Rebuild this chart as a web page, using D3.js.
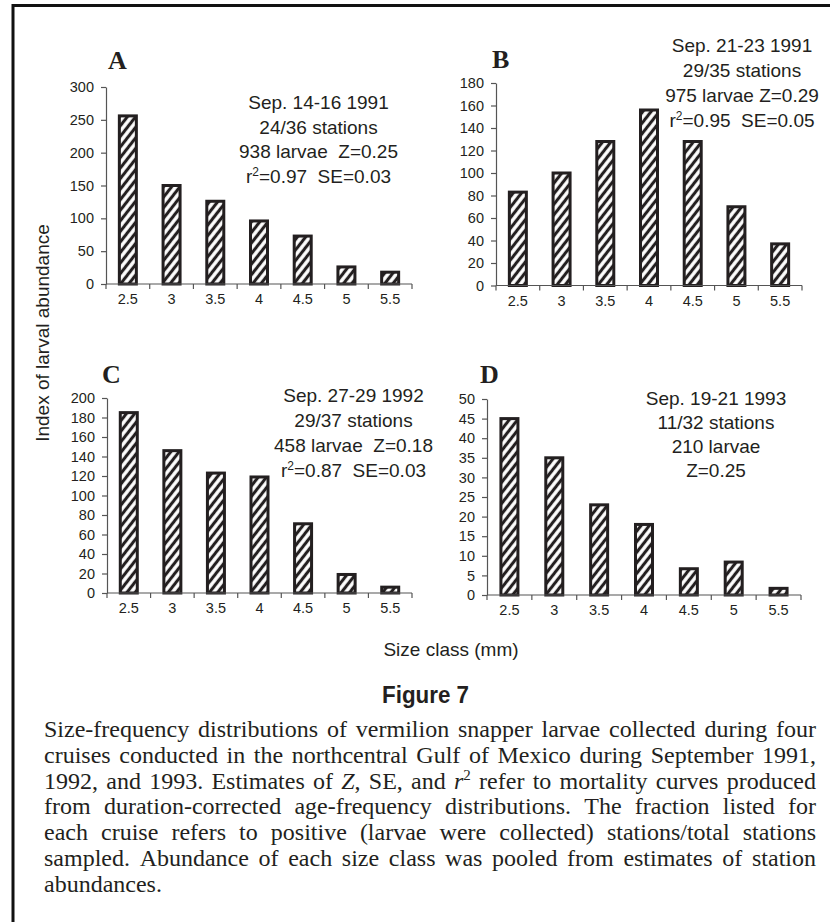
<!DOCTYPE html>
<html>
<head>
<meta charset="utf-8">
<script src="https://cdn.jsdelivr.net/npm/d3@7"></script>
<style>
  html, body { margin: 0; padding: 0; background: #fff; }
  svg { display: block; }
  text { fill: #231f20; }
</style>
</head>
<body>
<svg id="chart" width="830" height="922"></svg>
<script>
// ---------------- DATA ----------------
const categories = ["2.5", "3", "3.5", "4", "4.5", "5", "5.5"];

const valuesA = [256, 150, 126, 96, 73, 26, 18];
const valuesB = [83, 100, 128, 156, 128, 70, 37];
const valuesC = [185, 146, 123, 119, 71, 19, 6];
const valuesD = [45, 35, 23, 18, 6.7, 8.4, 1.7];

const yTicksA = [0, 50, 100, 150, 200, 250, 300];
const yTicksB = [0, 20, 40, 60, 80, 100, 120, 140, 160, 180];
const yTicksC = [0, 20, 40, 60, 80, 100, 120, 140, 160, 180, 200];
const yTicksD = [0, 5, 10, 15, 20, 25, 30, 35, 40, 45, 50];

const panelLetters = ["A", "B", "C", "D"];

// annotation lines; "^2^" marks a superscript
const notesA = ["Sep. 14-16 1991", "24/36 stations", "938 larvae  Z=0.25", "r^2^=0.97  SE=0.03"];
const notesB = ["Sep. 21-23 1991", "29/35 stations", "975 larvae Z=0.29", "r^2^=0.95  SE=0.05"];
const notesC = ["Sep. 27-29 1992", "29/37 stations", "458 larvae  Z=0.18", "r^2^=0.87  SE=0.03"];
const notesD = ["Sep. 19-21 1993", "11/32 stations", "210 larvae", "Z=0.25"];

const yAxisTitle = "Index of larval abundance";
const xAxisTitle = "Size class (mm)";
const figureTitle = "Figure 7";
// "_x_" italic, "^2^" superscript
const captionLines = [
  "Size-frequency distributions of vermilion snapper larvae collected during four",
  "cruises conducted in the northcentral Gulf of Mexico during September 1991,",
  "1992, and 1993. Estimates of _Z_, SE, and _r_^2^ refer to mortality curves produced",
  "from duration-corrected age-frequency distributions. The fraction listed for",
  "each cruise refers to positive (larvae were collected) stations/total stations",
  "sampled. Abundance of each size class was pooled from estimates of station",
  "abundances."
];

// ---------------- LAYOUT ----------------
const INK = "#231f20";
const SANS = "Liberation Sans, Arial, Helvetica, sans-serif";
const SERIF = "Liberation Serif, Times New Roman, serif";

const panels = [
  { values: valuesA, ticks: yTicksA, letter: panelLetters[0], notes: notesA,
    x0: 106, x1: 412, y0: 284, y1: 87, max: 300,
    lx: 108, ly: 69, nx: 318.5, ny: 109, ns: 24.7 },
  { values: valuesB, ticks: yTicksB, letter: panelLetters[1], notes: notesB,
    x0: 496, x1: 802, y0: 285.5, y1: 83, max: 180,
    lx: 492, ly: 68, nx: 742, ny: 52, ns: 25 },
  { values: valuesC, ticks: yTicksC, letter: panelLetters[2], notes: notesC,
    x0: 107, x1: 412, y0: 593, y1: 398, max: 200,
    lx: 102, ly: 383, nx: 353.5, ny: 402, ns: 25 },
  { values: valuesD, ticks: yTicksD, letter: panelLetters[3], notes: notesD,
    x0: 487, x1: 801, y0: 595, y1: 399, max: 50,
    lx: 480, ly: 383, nx: 716, ny: 405, ns: 24 }
];

const svg = d3.select("#chart");

// hatch pattern
const defs = svg.append("defs");
const pat = defs.append("pattern")
  .attr("id", "hatch")
  .attr("patternUnits", "userSpaceOnUse")
  .attr("width", 6.5).attr("height", 6.5)
  .attr("patternTransform", "rotate(38)");
pat.append("rect").attr("width", 6.5).attr("height", 6.5).attr("fill", "#fff");
pat.append("line").attr("x1", 3.25).attr("y1", -1).attr("x2", 3.25).attr("y2", 7.5)
  .attr("stroke", INK).attr("stroke-width", 3.1);

// frame (top + left rule)
svg.append("path")
  .attr("d", "M13,922 V5.5 H830")
  .attr("fill", "none").attr("stroke", "#111").attr("stroke-width", 3);

function addRichText(sel, str, supSize, supShift) {
  const parts = str.split("^");
  parts.forEach((p, i) => {
    if (!p) return;
    const isSup = i % 2 === 1;
    const ts = sel.append("tspan").text(p);
    if (isSup) {
      ts.attr("font-size", supSize).attr("dy", -supShift);
    } else if (i > 0) {
      ts.attr("dy", supShift);
    }
  });
}

panels.forEach(p => {
  const g = svg.append("g");
  const x = d3.scaleBand().domain(categories).range([p.x0, p.x1]).paddingInner(0).paddingOuter(0);
  const y = d3.scaleLinear().domain([0, p.max]).range([p.y0, p.y1]);

  // y axis
  const ya = g.append("g")
    .attr("transform", `translate(${p.x0},0)`)
    .call(d3.axisLeft(y).tickValues(p.ticks).tickSize(5).tickSizeOuter(0).tickPadding(7));
  ya.select(".domain").attr("stroke", "#555").attr("stroke-width", 1.2);
  ya.selectAll(".tick line").attr("stroke", "#555").attr("stroke-width", 1.2);
  ya.selectAll(".tick text").attr("font-size", 14.5).attr("font-family", SANS).attr("fill", INK);

  // bars
  const bw = 17;
  g.selectAll("rect.bar")
    .data(p.values)
    .join("rect")
    .attr("class", "bar")
    .attr("x", (d, i) => x(categories[i]) + x.bandwidth() / 2 - bw / 2)
    .attr("y", d => y(d))
    .attr("width", bw)
    .attr("height", d => y(0) - y(d))
    .attr("fill", "url(#hatch)")
    .attr("stroke", INK)
    .attr("stroke-width", 3);

  // x axis
  g.append("line")
    .attr("x1", p.x0).attr("x2", p.x1)
    .attr("y1", p.y0).attr("y2", p.y0)
    .attr("stroke", "#555").attr("stroke-width", 1.2);
  const bounds = categories.map(c => x(c)).concat([p.x1]);
  g.selectAll("line.xt")
    .data(bounds)
    .join("line")
    .attr("class", "xt")
    .attr("x1", d => d).attr("x2", d => d)
    .attr("y1", p.y0).attr("y2", p.y0 + 5)
    .attr("stroke", "#555").attr("stroke-width", 1.2);
  g.selectAll("text.xl")
    .data(categories)
    .join("text")
    .attr("class", "xl")
    .attr("x", d => x(d) + x.bandwidth() / 2)
    .attr("y", p.y0 + 20)
    .attr("text-anchor", "middle")
    .attr("font-family", SANS)
    .attr("font-size", 14.5)
    .text(d => d);

  // panel letter
  g.append("text")
    .attr("x", p.lx).attr("y", p.ly)
    .attr("font-family", SERIF)
    .attr("font-weight", "bold")
    .attr("font-size", 26)
    .text(p.letter);

  // notes
  p.notes.forEach((line, i) => {
    const t = g.append("text")
      .attr("x", p.nx).attr("y", p.ny + i * p.ns)
      .attr("text-anchor", "middle")
      .attr("font-family", SANS)
      .attr("font-size", 19)
      .style("white-space", "pre");
    addRichText(t, line, 12, 7);
  });
});

// axis titles
svg.append("text")
  .attr("transform", "translate(49,333) rotate(-90)")
  .attr("text-anchor", "middle")
  .attr("font-family", SANS)
  .attr("font-size", 19)
  .text(yAxisTitle);

svg.append("text")
  .attr("x", 451).attr("y", 656)
  .attr("text-anchor", "middle")
  .attr("font-family", SANS)
  .attr("font-size", 19)
  .text(xAxisTitle);

svg.append("text")
  .attr("x", 425.5).attr("y", 703)
  .attr("text-anchor", "middle")
  .attr("font-family", SANS)
  .attr("font-weight", "bold")
  .attr("font-size", 23)
  .attr("textLength", 87)
  .attr("lengthAdjust", "spacingAndGlyphs")
  .text(figureTitle);

// caption, justified
const capX0 = 44, capX1 = 816, capY0 = 737, capDy = 25.8, capSize = 24;
const capG = svg.append("g").attr("font-family", SERIF).attr("font-size", capSize);

function renderWord(parent, word) {
  const t = parent.append("text");
  // tokens: _italic_ and ^sup^
  const re = /(_[^_]+_|\^[^^]+\^)/g;
  const toks = word.split(re).filter(s => s.length);
  let raised = false;
  toks.forEach(tok => {
    if (tok[0] === "_") {
      const ts = t.append("tspan").attr("font-style", "italic").text(tok.slice(1, -1));
      if (raised) { ts.attr("dy", 9); raised = false; }
    } else if (tok[0] === "^") {
      t.append("tspan").attr("font-size", 15).attr("dy", -9).text(tok.slice(1, -1));
      raised = true;
    } else {
      const ts = t.append("tspan").text(tok);
      if (raised) { ts.attr("dy", 9); raised = false; }
    }
  });
  return t;
}

captionLines.forEach((line, li) => {
  const yy = capY0 + li * capDy;
  const words = line.split(" ");
  const nodes = words.map(w => renderWord(capG, w).attr("y", yy));
  const widths = nodes.map(n => n.node().getComputedTextLength());
  const total = d3.sum(widths);
  const justify = li < captionLines.length - 1;
  let gap = justify && words.length > 1 ? (capX1 - capX0 - total) / (words.length - 1) : capSize * 0.25;
  let scale = 1;
  if (gap < 4) { // compress if too wide
    const natural = total + 4 * (words.length - 1);
    scale = (capX1 - capX0) / natural;
    gap = 4 * scale;
  }
  let cx = capX0;
  nodes.forEach((n, i) => {
    n.attr("x", cx);
    if (scale !== 1) {
      n.attr("textLength", widths[i] * scale).attr("lengthAdjust", "spacingAndGlyphs");
    }
    cx += widths[i] * scale + gap;
  });
});
</script>
</body>
</html>
